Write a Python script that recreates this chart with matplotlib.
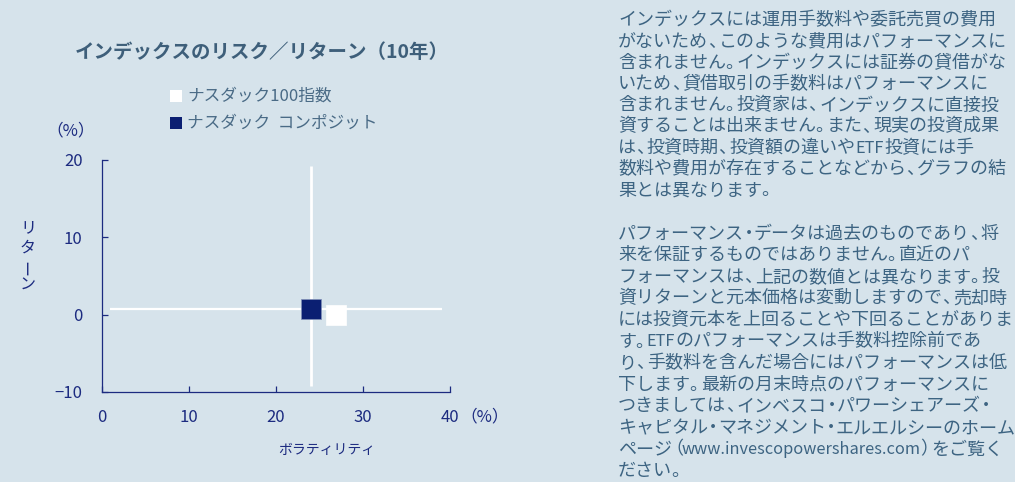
import matplotlib.pyplot as plt

plt.rcParams['font.family'] = ['Noto Sans CJK JP', 'DejaVu Sans']

# data
names = ["ナスダック100指数", "ナスダック  コンポジット"]
volatility = [26.9, 24.0]
returns = [-0.1, 0.7]
colors = ["white", "#0b1f72"]
cross_x = [24.0]
cross_y = [0.7]
xticks = [0, 10, 20, 30, 40]
yticks = [-10, 0, 10, 20]

note1 = [
    "インデックスには運用手数料や委託売買の費用",
    "がないため、このような費用はパフォーマンスに",
    "含まれません。インデックスには証券の貸借がな",
    "いため、貸借取引の手数料はパフォーマンスに",
    "含まれません。投資家は、インデックスに直接投",
    "資することは出来ません。また、現実の投資成果",
    "は、投資時期、投資額の違いやETF投資には手",
    "数料や費用が存在することなどから、グラフの結",
    "果とは異なります。",
]
note2 = [
    "パフォーマンス・データは過去のものであり、将",
    "来を保証するものではありません。直近のパ",
    "フォーマンスは、上記の数値とは異なります。投",
    "資リターンと元本価格は変動しますので、売却時",
    "には投資元本を上回ることや下回ることがありま",
    "す。ETFのパフォーマンスは手数料控除前であ",
    "り、手数料を含んだ場合にはパフォーマンスは低",
    "下します。最新の月末時点のパフォーマンスに",
    "つきましては、インベスコ・パワーシェアーズ・",
    "キャピタル・マネジメント・エルエルシーのホーム",
    "ページ（www.invescopowershares.com）をご覧く",
    "ださい。",
]

bg = "#d6e3eb"
navy = "#1c2b80"
steel = "#3d6482"
W, H = 1015, 482

fig = plt.figure(figsize=(10.15, 4.82), dpi=100, facecolor=bg)
ax = fig.add_axes([102 / W, 1 - 392 / H, 348 / W, 232 / H], facecolor=bg)

# white reference lines
ax.vlines(cross_x, -9.2, 19.2, color="white", linewidth=2, zorder=1)
ax.hlines(cross_y, 0.9, 39.1, color="white", linewidth=1.6, zorder=1)

for x, y, c, n in zip(volatility, returns, colors, names):
    ax.plot(x, y, marker="s", markersize=13.7, color=c, linestyle="none",
            markeredgecolor="#8090b8" if c != "white" else "white",
            markeredgewidth=0.5, zorder=3, label=n)

ax.set_xlim(0, 40)
ax.set_ylim(-10, 20)
ax.set_xticks(xticks)
ax.set_yticks(yticks)
ax.set_yticklabels(["−10", "0", "10", "20"])
for s in ["top", "right"]:
    ax.spines[s].set_visible(False)
for s in ["left", "bottom"]:
    ax.spines[s].set_color(navy)
    ax.spines[s].set_linewidth(0.9)
ax.tick_params(axis="both", direction="in", length=4.5, width=0.9, color=navy,
               labelcolor=navy, labelsize=12)
ax.tick_params(axis="y", pad=14)
ax.tick_params(axis="x", pad=12.5)

# axis units and labels
fig.text(485 / W, 1 - 417 / H, "（%）", color=navy, fontsize=12, ha="center", va="center")
fig.text(71 / W, 1 - 131 / H, "（%）", color=navy, fontsize=12, ha="center", va="center")
fig.text(327 / W, 1 - 450 / H, "ボラティリティ", color=navy, fontsize=10, ha="center", va="center")
ylab_y = [228, 248, 267, 285]
for ch, yy in zip("リターン", ylab_y):
    fig.text(28 / W, 1 - yy / H, ch, color=navy, fontsize=11.5, ha="center", va="center",
             rotation=90 if ch == "ー" else 0)

# title and legend
fig.text(262 / W, 1 - 53 / H, "インデックスのリスク／リターン（10年）", color="#3e5f7a",
         fontsize=14, fontweight="bold", ha="center", va="center")
leg_y = [96, 123]
for n, c, yy in zip(names, colors, leg_y):
    fig.patches.append(plt.Rectangle((170 / W, 1 - (yy + 6) / H), 12 / W, 12 / H,
                                     transform=fig.transFigure, facecolor=c,
                                     edgecolor="none"))
    fig.text(187 / W, 1 - yy / H, n, color="#4a6b86", fontsize=12, ha="left", va="center")

# notes on the right: narrower punctuation and latin, like a proportional font
renderer = fig.canvas.get_renderer()
note_size = 13
latin_size = 11.8
em = note_size * 100 / 72
# (x offset, advance) in em
punct = {"、": (-0.02, 0.6), "。": (-0.02, 0.6), "・": (-0.23, 0.55),
         "（": (-0.38, 0.55), "）": (-0.05, 0.55)}


def seg_width(s, size):
    a = fig.text(0, 0, s + "あ", fontsize=size)
    b = fig.text(0, 0, "あ", fontsize=size)
    w = a.get_window_extent(renderer).width - b.get_window_extent(renderer).width
    a.remove()
    b.remove()
    return w


def kind(ch):
    if ch in punct:
        return "p"
    return "a" if ch.isascii() else "j"


def draw_line(x0, yy, line):
    parts = []
    for ch in line:
        k = kind(ch)
        if parts and k != "p" and parts[-1][1] == k:
            parts[-1][0] += ch
        else:
            parts.append([ch, k])
    base = 1 - (yy + 0.36 * em) / H
    x = x0
    for s, k in parts:
        if k == "p":
            off, adv = punct[s]
            fig.text((x + off * em) / W, base, s, color=steel, fontsize=note_size,
                     ha="left", va="baseline")
            x += adv * em
        else:
            size = latin_size if k == "a" else note_size
            fig.text(x / W, base, s, color=steel, fontsize=size,
                     ha="left", va="baseline")
            x += seg_width(s, size)


for i, line in enumerate(note1):
    draw_line(618, 19 + 21.2 * i, line)
for i, line in enumerate(note2):
    draw_line(618, 232 + 21.6 * i, line)

fig.savefig("out.png", dpi=100, facecolor=bg)
